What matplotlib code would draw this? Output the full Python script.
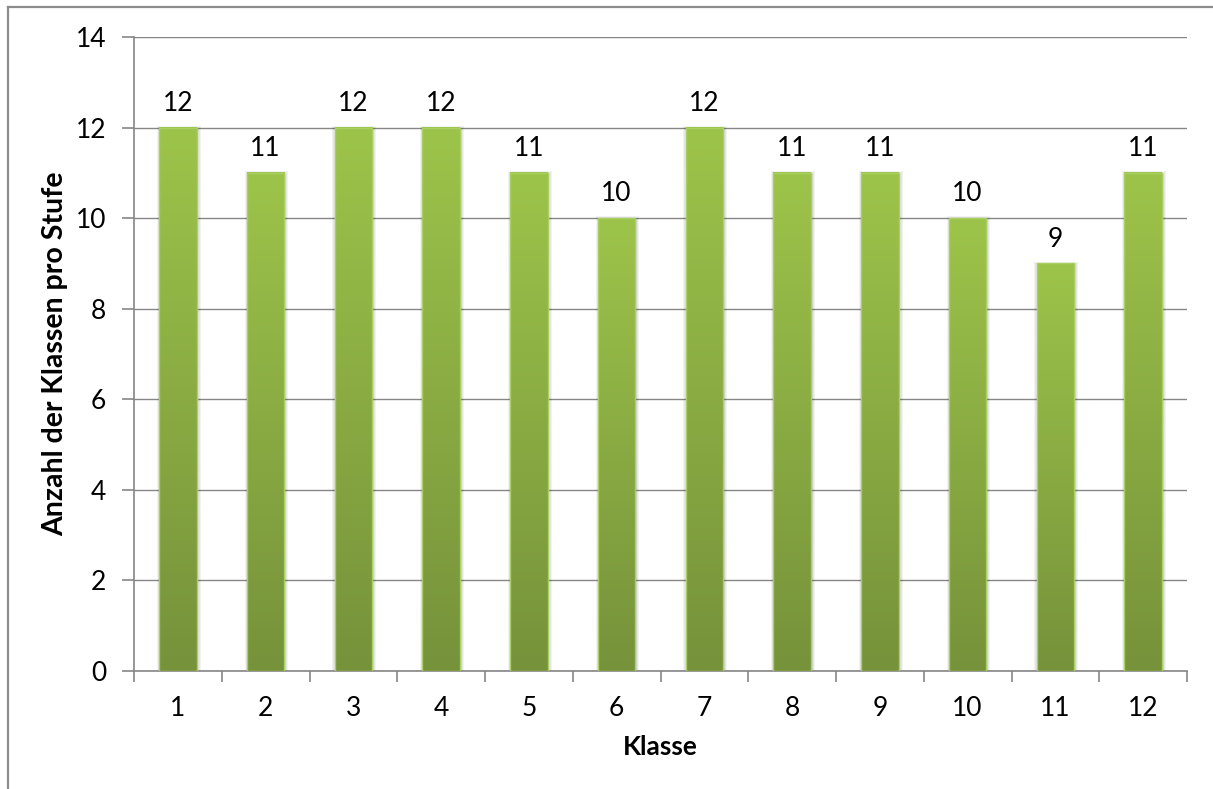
import numpy as np
import matplotlib.pyplot as plt
from matplotlib.colors import LinearSegmentedColormap
from matplotlib.patches import Rectangle
from matplotlib.lines import Line2D

plt.rcParams['font.family'] = ['Lato', 'DejaVu Sans']

klassen = ['1', '2', '3', '4', '5', '6', '7', '8', '9', '10', '11', '12']
anzahl = [12, 11, 12, 12, 11, 10, 12, 11, 11, 10, 9, 11]

W, H = 1213, 789
fs = 19
fig = plt.figure(figsize=(W / 100, H / 100), dpi=100)
fig.patch.set_facecolor('white')

# outer chart frame (only top and left edges are visible)
frame_col = '#8c8c8c'
fig.add_artist(Line2D([8 / W, 8 / W], [0, 1 - 7 / H], color=frame_col, lw=1.6,
                      transform=fig.transFigure))
fig.add_artist(Line2D([8 / W, 1], [1 - 7 / H, 1 - 7 / H], color=frame_col, lw=1.6,
                      transform=fig.transFigure))

ax = fig.add_axes([134 / W, (H - 671) / H, 1053 / W, 634 / H])
ax.set_xlim(-0.5, len(klassen) - 0.5)
ax.set_ylim(0, 14)

grid_col = '#868686'
ax.set_yticks(np.arange(0, 15, 2))
ax.yaxis.grid(True, color=grid_col, lw=1.0)
ax.set_axisbelow(True)
for s in ['top', 'right']:
    ax.spines[s].set_visible(False)
for s in ['left', 'bottom']:
    ax.spines[s].set_color(grid_col)
    ax.spines[s].set_linewidth(1.2)

ax.tick_params(axis='y', length=9, color=grid_col, width=1.2, labelsize=fs, pad=11)
# boundary ticks below the axis, small ticks at the bar centres pointing up
ax.set_xticks(np.arange(-0.5, len(klassen), 1.0))
ax.set_xticklabels([])
ax.tick_params(axis='x', which='major', direction='out', length=8, color=grid_col, width=1.2)
ax.set_xticks(np.arange(len(klassen)), minor=True)
ax.set_xticklabels(klassen, minor=True)
ax.tick_params(axis='x', which='minor', direction='in', length=6, color=grid_col,
               width=1.2, labelsize=fs, pad=18)

cmap = LinearSegmentedColormap.from_list('olive', ['#76923b', '#9dc44a'])
grad = np.linspace(0, 1, 256).reshape(-1, 1)
bw = 0.425
for i, v in enumerate(anzahl):
    x0 = i - bw / 2
    # soft shadow
    for k, a in enumerate([0.05, 0.05, 0.06]):
        d = 0.012 * (3 - k)
        ax.add_patch(Rectangle((x0 - d + 0.01, -0.05), bw + 2 * d, v + d * 2.5,
                               facecolor='black', edgecolor='none', alpha=a, zorder=2))
    ax.imshow(grad, cmap=cmap, origin='lower', aspect='auto',
              extent=(x0, x0 + bw, 0, v), zorder=3)
    ax.add_patch(Rectangle((x0, 0), bw, v, facecolor='none', edgecolor='#a9cf62',
                           lw=1.0, zorder=4))
    ax.annotate(str(v), (i, v), xytext=(0, 12), textcoords='offset points',
                ha='center', va='baseline', fontsize=fs)

ax.set_xlim(-0.5, len(klassen) - 0.5)
ax.set_ylim(0, 14)

ax.set_ylabel('Anzahl der Klassen pro Stufe', fontsize=20.5, fontweight='bold', labelpad=5)
ax.set_xlabel('Klasse', fontsize=fs, fontweight='bold', labelpad=10)

fig.savefig('out.png', dpi=100)
